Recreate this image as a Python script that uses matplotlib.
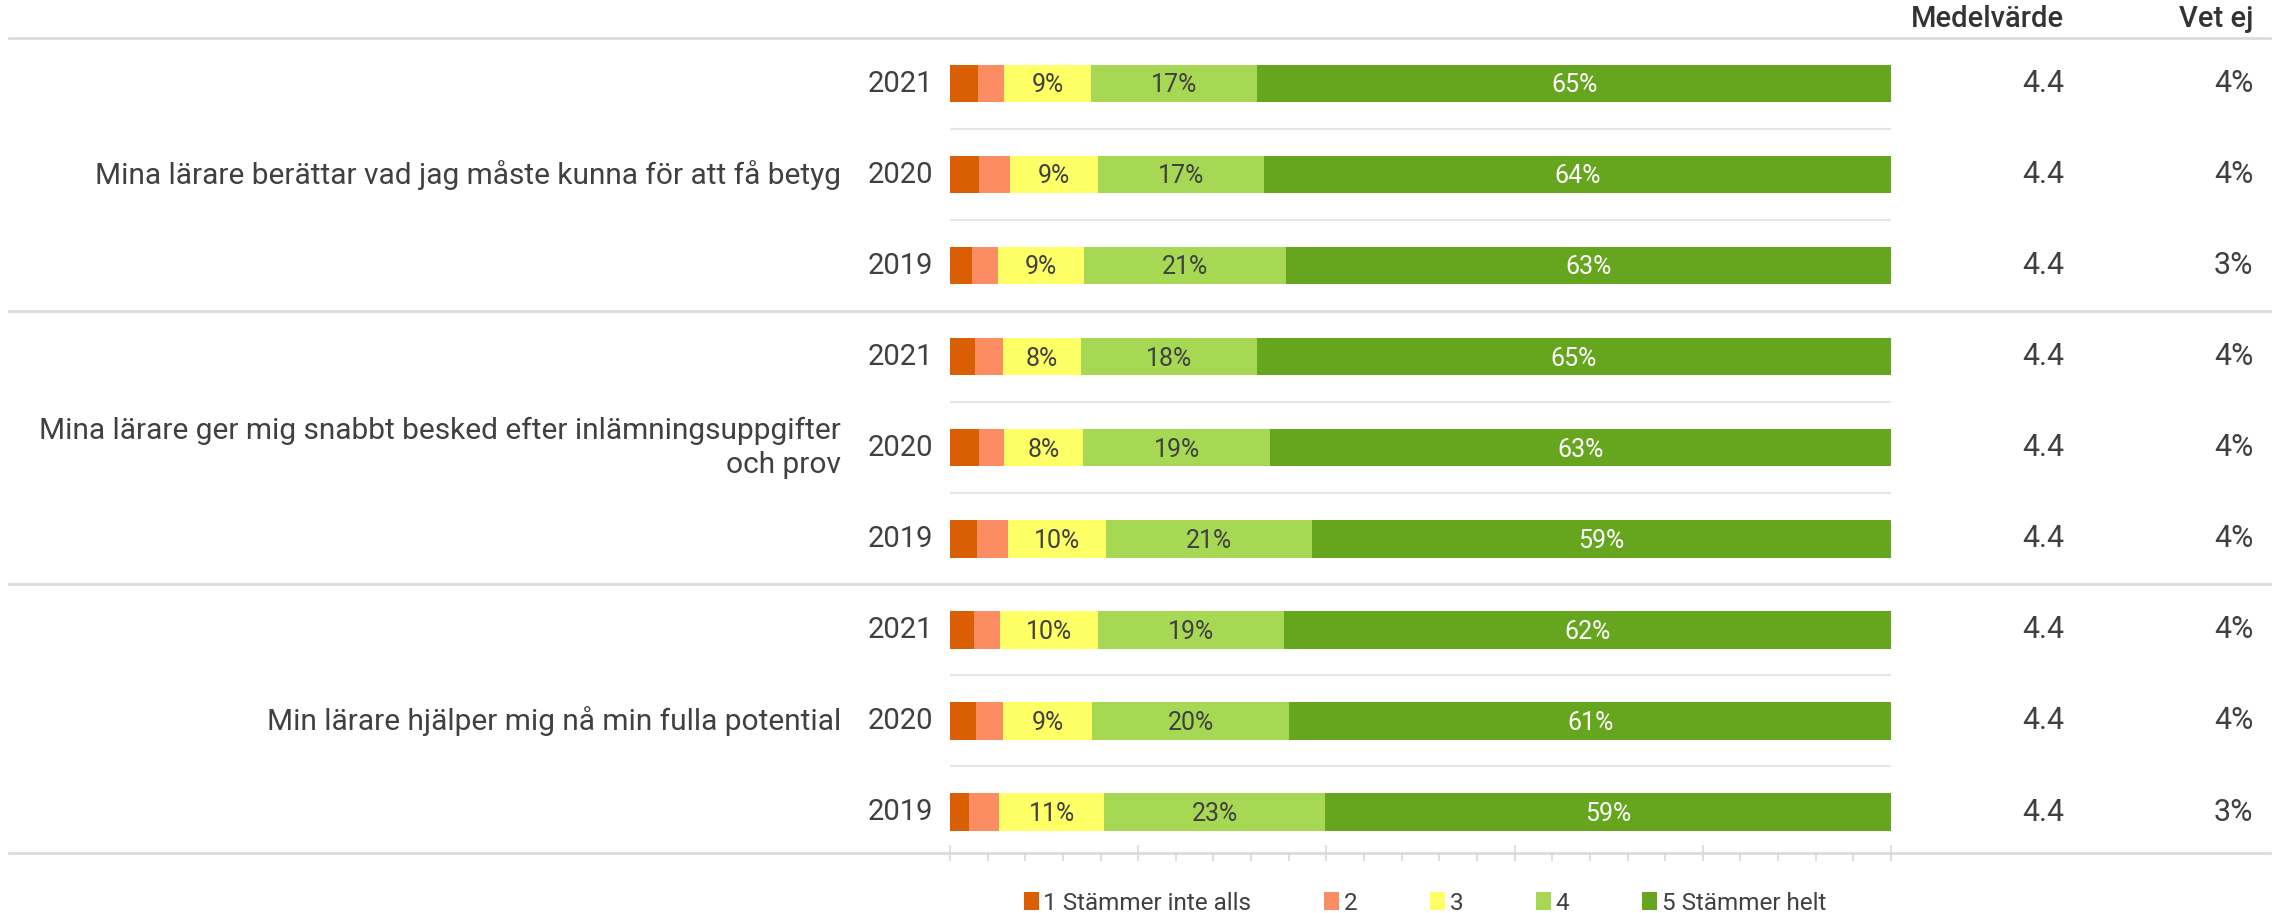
import matplotlib
matplotlib.use("Agg")
import matplotlib.pyplot as plt
import matplotlib.transforms as mtransforms
from matplotlib.patches import Patch
import numpy as np

plt.rcParams['font.family'] = ['Roboto', 'DejaVu Sans']

# ---------------- data ----------------
questions = [
    "Mina lärare berättar vad jag måste kunna för att få betyg",
    "Mina lärare ger mig snabbt besked efter inlämningsuppgifter\noch prov",
    "Min lärare hjälper mig nå min fulla potential",
]
years = ["2021", "2020", "2019", "2021", "2020", "2019", "2021", "2020", "2019"]
legend_labels = ["1 Stämmer inte alls", "2", "3", "4", "5 Stämmer helt"]
s1 = [2.9, 3.0, 2.3, 2.6, 2.9, 2.8, 2.5, 2.6, 2.0]
s2 = [2.6, 3.1, 2.7, 2.8, 2.6, 3.1, 2.6, 2.8, 3.1]
s3 = [9, 9, 9, 8, 8, 10, 10, 9, 11]
s4 = [17, 17, 21, 18, 19, 21, 19, 20, 23]
s5 = [65, 64, 63, 65, 63, 59, 62, 61, 59]
medel = [4.4, 4.4, 4.4, 4.4, 4.4, 4.4, 4.4, 4.4, 4.4]
vet_ej = [4, 4, 3, 4, 4, 4, 4, 4, 3]

colors = ["#d95f02", "#fc8d62", "#ffff66", "#a6d854", "#66a61e"]
label_colors = [None, None, "#404040", "#404040", "#ffffff"]
TXT = "#404040"

# ---------------- figure ----------------
W, H = 2282, 913
fig = plt.figure(figsize=(W / 100, H / 100), dpi=100)
x0, x1 = 950 / W, 1891 / W
y0, y1 = 1 - 853 / H, 1 - 38 / H
ax = fig.add_axes([x0, y0, x1 - x0, y1 - y0])

values = np.array([s1, s2, s3, s4, s5], dtype=float).T
shares = values / values.sum(axis=1, keepdims=True) * 100
ypos = np.arange(len(years))
left = np.zeros(len(years))
for k in range(5):
    ax.barh(ypos, shares[:, k], left=left, height=0.41, color=colors[k],
            linewidth=0, zorder=3)
    if label_colors[k] is not None:
        for i in range(len(years)):
            ax.text(left[i] + shares[i, k] / 2, ypos[i] + 0.02, f"{int(values[i, k])}%",
                    ha="center", va="center", color=label_colors[k], fontsize=18, zorder=4)
    left += shares[:, k]

ax.set_xlim(0, 100)
ax.set_ylim(8.45, -0.5)
for sp in ax.spines.values():
    sp.set_visible(False)
ax.set_yticks([])
ax.set_xticks(np.arange(0, 101, 20))
ax.set_xticks(np.arange(0, 101, 4), minor=True)
ax.tick_params(axis="x", which="major", direction="inout", length=12, width=1.2,
               color="#d9d9d9", labelbottom=False)
ax.tick_params(axis="x", which="minor", direction="out", length=6, width=1.2,
               color="#d9d9d9")

# separators
for yy in [0.5, 1.5, 3.5, 4.5, 6.5, 7.5]:
    ax.axhline(yy, 0, 1, color="#e6e6e6", lw=1.5, zorder=1)
xa, xb = (9 - 950) / 941, (2270 - 950) / 941
for yy in [-0.5, 2.5, 5.5, 8.45]:
    ax.axhline(yy, xa, xb, color="#dcdcdc", lw=2, clip_on=False, zorder=1)

trans = mtransforms.blended_transform_factory(ax.transAxes, ax.transData)
for i in range(len(years)):
    ax.text(-0.018, ypos[i], years[i], ha="right", va="center", fontsize=21,
            color=TXT, transform=trans)
    ax.text(1.184, ypos[i], f"{medel[i]:.1f}", ha="right", va="center", fontsize=22,
            color=TXT, transform=trans)
    ax.text(1.385, ypos[i], f"{vet_ej[i]}%", ha="right", va="center", fontsize=22,
            color=TXT, transform=trans)
for g, q in enumerate(questions):
    ax.text(-0.116, g * 3 + 1, q, ha="right", va="center", multialignment="right",
            fontsize=21.5, color=TXT, transform=trans, linespacing=1.3)

ax.text(1.184, -0.71, "Medelvärde", ha="right", va="center", fontsize=21,
        fontweight="medium", color="#333333", transform=trans)
ax.text(1.385, -0.71, "Vet ej", ha="right", va="center", fontsize=21,
        fontweight="medium", color="#333333", transform=trans)

handles = [Patch(facecolor=c, edgecolor="none", label=l) for c, l in zip(colors, legend_labels)]
leg = fig.legend(handles=handles, loc="center", bbox_to_anchor=((x0 + x1) / 2 + 0.002, 1 - 903 / H),
                 ncol=5, frameon=False, fontsize=17.5, handlelength=0.6, handleheight=0.7,
                 handletextpad=0.2, columnspacing=3.0, borderpad=0)
for t in leg.get_texts():
    t.set_color(TXT)

fig.savefig("out.png", dpi=100)
